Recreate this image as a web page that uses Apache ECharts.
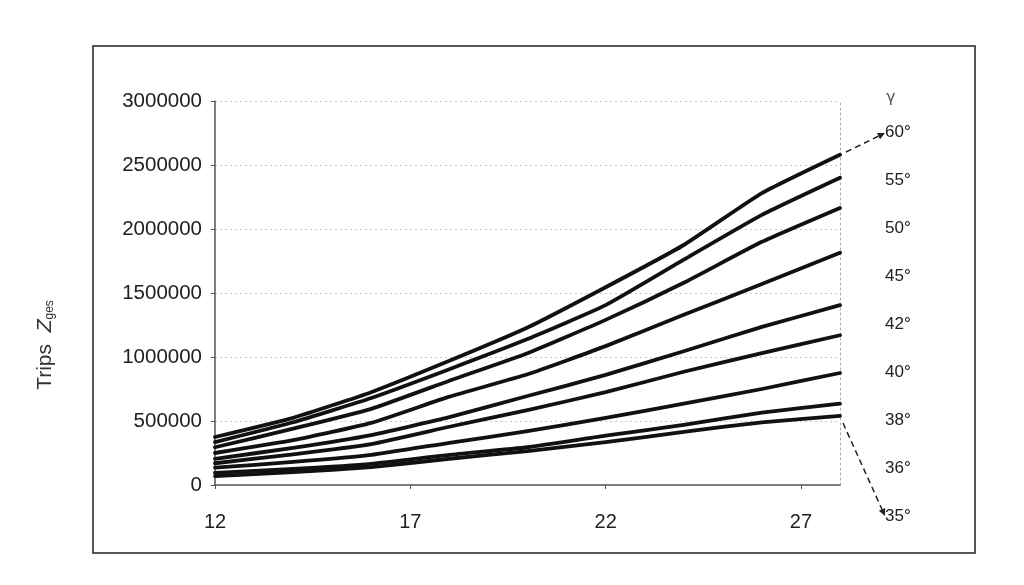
<!DOCTYPE html>
<html>
<head>
<meta charset="utf-8">
<script src="https://cdn.jsdelivr.net/npm/echarts@6/dist/echarts.min.js"></script>
<style>
  html, body { margin: 0; padding: 0; background: #fff; }
  #chartBox { width: 1024px; height: 585px; }
</style>
</head>
<body>
<div id="chartBox"></div>
<script>
// x values (categories along the axis)
const xValues = [12, 14, 16, 18, 20, 22, 24, 26, 28];
const xTicks = [12, 17, 22, 27];
const yTicks = [0, 500000, 1000000, 1500000, 2000000, 2500000, 3000000];

// angle labels, top to bottom
const angleNames = ['60°', '55°', '50°', '45°', '42°', '40°', '38°', '36°', '35°'];

// trips per angle
const s60 = [375000, 525000, 725000, 970000, 1230000, 1545000, 1875000, 2280000, 2580000];
const s55 = [335000, 490000, 680000, 905000, 1140000, 1405000, 1760000, 2110000, 2400000];
const s50 = [295000, 440000, 595000, 815000, 1030000, 1290000, 1580000, 1900000, 2165000];
const s45 = [250000, 350000, 485000, 690000, 865000, 1085000, 1330000, 1570000, 1815000];
const s42 = [205000, 290000, 390000, 530000, 695000, 860000, 1045000, 1235000, 1405000];
const s40 = [170000, 240000, 320000, 455000, 585000, 725000, 885000, 1030000, 1170000];
const s38 = [135000, 180000, 235000, 330000, 420000, 525000, 635000, 750000, 875000];
const s36 = [95000, 125000, 165000, 235000, 295000, 385000, 470000, 565000, 635000];
const s35 = [70000, 100000, 140000, 205000, 265000, 335000, 415000, 490000, 540000];

const allSeries = [s60, s55, s50, s45, s42, s40, s38, s36, s35];

let myChart = echarts.init(document.getElementById('chartBox'));

// 右侧角度标签
let angleText = angleNames.map(function (name, i) {
	return {
		type: 'text',
		left: 885,
		top: 124 + i * 48,
		style: { text: name, fontSize: 17, fontFamily: 'Liberation Sans', fill: '#222' }
	};
});

// 虚线箭头
function arrow(x1, y1, x2, y2) {
	let a = Math.atan2(y2 - y1, x2 - x1);
	let L = 8, w = 0.45;
	return [{
		type: 'line',
		shape: { x1: x1, y1: y1, x2: x2 - Math.cos(a) * 5, y2: y2 - Math.sin(a) * 5 },
		style: { stroke: '#222', lineWidth: 1.5, lineDash: [6, 4] }
	}, {
		type: 'polygon',
		shape: {
			points: [
				[x2, y2],
				[x2 - L * Math.cos(a - w), y2 - L * Math.sin(a - w)],
				[x2 - L * Math.cos(a + w), y2 - L * Math.sin(a + w)]
			]
		},
		style: { fill: '#222' }
	}];
}

let option = {
	backgroundColor: '#fff',
	animation: false,
	grid: { left: 215, right: 184, top: 101, bottom: 100 },
	xAxis: {
		type: 'value',
		min: 12,
		max: 28,
		interval: 5,
		axisLine: { lineStyle: { color: '#555', width: 1.5 } },
		axisTick: { show: true, length: 4, lineStyle: { color: '#555' } },
		axisLabel: {
			margin: 27,
			fontSize: 20,
			fontFamily: 'Liberation Sans',
			color: '#222',
			showMaxLabel: false,
			formatter: function (v) { return xTicks.indexOf(v) >= 0 ? String(v) : ''; }
		},
		splitLine: { show: false }
	},
	yAxis: [{
		type: 'value',
		min: 0,
		max: 3000000,
		interval: 500000,
		axisLine: { show: true, lineStyle: { color: '#555', width: 1.5 } },
		axisTick: { show: true, length: 4, lineStyle: { color: '#555' } },
		axisLabel: {
			margin: 13,
			fontSize: 20.5,
			fontFamily: 'Liberation Sans',
			color: '#222',
			formatter: function (v) { return yTicks.indexOf(v) >= 0 ? String(v) : ''; }
		},
		splitLine: { show: true, lineStyle: { color: '#c8c8c8', type: [2, 3], width: 1 } }
	}, {
		type: 'value',
		min: 0,
		max: 3000000,
		interval: 500000,
		position: 'right',
		axisLine: { show: true, lineStyle: { color: '#aaa', type: [2, 3], width: 1 } },
		axisTick: { show: false },
		axisLabel: { show: false },
		splitLine: { show: false }
	}],
	series: allSeries.map(function (vals, i) {
		return {
			name: angleNames[i],
			type: 'line',
			data: xValues.map(function (x, j) { return [x, vals[j]]; }),
			showSymbol: false,
			smooth: 0.15,
			lineStyle: { color: '#111', width: 3.8, cap: 'round', join: 'round' }
		};
	}),
	graphic: [
		{
			type: 'rect',
			shape: { x: 93, y: 46, width: 882, height: 507 },
			style: { fill: 'none', stroke: '#222', lineWidth: 1.5 }
		},
		{
			// y axis title: Trips Z_ges
			type: 'text',
			x: 45,
			y: 345,
			rotation: Math.PI / 2,
			style: {
				text: 'Trips  {z|Z}{sub|ges}',
				fontSize: 21,
				fontFamily: 'Liberation Sans',
				fill: '#333',
				align: 'center',
				verticalAlign: 'middle',
				rich: {
					z: { fontSize: 21, fontFamily: 'Liberation Sans', fill: '#333', fontStyle: 'italic' },
					sub: { fontSize: 12, fontFamily: 'Liberation Sans', fill: '#333', padding: [10, 0, 0, 0] }
				}
			}
		},
		{
			type: 'text',
			left: 886,
			top: 90,
			style: { text: 'γ', fontSize: 16, fontFamily: 'DejaVu Sans', fill: '#555' }
		}
	].concat(angleText)
	 .concat(arrow(846, 152, 885, 133))
	 .concat(arrow(843, 423, 885, 516))
};
myChart.setOption(option, true);
</script>
</body>
</html>
